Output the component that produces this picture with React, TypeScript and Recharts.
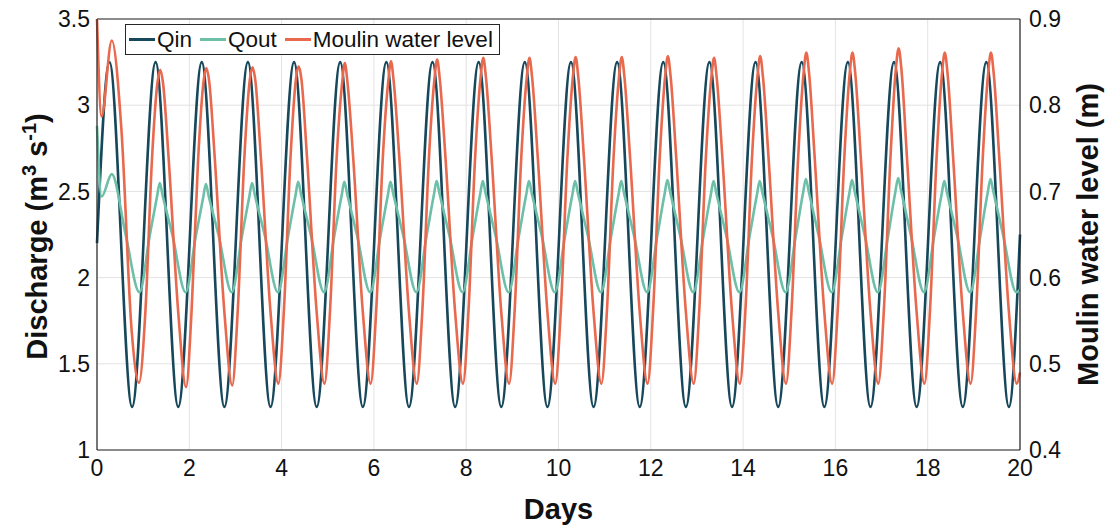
import React from "react";
import { CartesianGrid, Line, LineChart, ReferenceLine, XAxis, YAxis } from "recharts";

type Point = [number, number];

// Meltwater inflow to the moulin (m3/s): daily highs and lows
const qinPoints: Point[] = [
  [0, 2.2],
  [0.27, 3.25], [0.76, 1.25],
  [1.27, 3.25], [1.76, 1.25],
  [2.27, 3.25], [2.76, 1.25],
  [3.27, 3.25], [3.76, 1.25],
  [4.27, 3.25], [4.76, 1.25],
  [5.27, 3.25], [5.76, 1.25],
  [6.27, 3.25], [6.76, 1.25],
  [7.27, 3.25], [7.76, 1.25],
  [8.27, 3.25], [8.76, 1.25],
  [9.27, 3.25], [9.76, 1.25],
  [10.27, 3.25], [10.76, 1.25],
  [11.27, 3.25], [11.76, 1.25],
  [12.27, 3.25], [12.76, 1.25],
  [13.27, 3.25], [13.76, 1.25],
  [14.27, 3.25], [14.76, 1.25],
  [15.27, 3.25], [15.76, 1.25],
  [16.27, 3.25], [16.76, 1.25],
  [17.27, 3.25], [17.76, 1.25],
  [18.27, 3.25], [18.76, 1.25],
  [19.27, 3.25], [19.76, 1.25],
  [20, 2.25],
];

// Outflow through the subglacial channel (m3/s)
const qoutPoints: Point[] = [
  [0, 2.88], [0.1, 2.47], [0.32, 2.6], [0.62, 2.25], [0.92, 1.915],
  [1.14, 2.24], [1.3, 2.469], [1.36, 2.549], [1.42, 2.479], [1.64, 2.24], [1.92, 1.915],
  [2.14, 2.24], [2.3, 2.463], [2.36, 2.543], [2.42, 2.473], [2.64, 2.24], [2.92, 1.915],
  [3.14, 2.24], [3.3, 2.469], [3.36, 2.549], [3.42, 2.479], [3.64, 2.24], [3.92, 1.915],
  [4.14, 2.24], [4.3, 2.475], [4.36, 2.555], [4.42, 2.485], [4.64, 2.24], [4.92, 1.915],
  [5.14, 2.24], [5.3, 2.475], [5.36, 2.555], [5.42, 2.485], [5.64, 2.24], [5.92, 1.915],
  [6.14, 2.24], [6.3, 2.475], [6.36, 2.555], [6.42, 2.485], [6.64, 2.24], [6.92, 1.915],
  [7.14, 2.24], [7.3, 2.48], [7.36, 2.56], [7.42, 2.49], [7.64, 2.24], [7.92, 1.915],
  [8.14, 2.24], [8.3, 2.48], [8.36, 2.56], [8.42, 2.49], [8.64, 2.24], [8.92, 1.915],
  [9.14, 2.24], [9.3, 2.48], [9.36, 2.56], [9.42, 2.49], [9.64, 2.24], [9.92, 1.915],
  [10.14, 2.24], [10.3, 2.48], [10.36, 2.56], [10.42, 2.49], [10.64, 2.24], [10.92, 1.915],
  [11.14, 2.24], [11.3, 2.48], [11.36, 2.56], [11.42, 2.49], [11.64, 2.24], [11.92, 1.915],
  [12.14, 2.24], [12.3, 2.486], [12.36, 2.566], [12.42, 2.496], [12.64, 2.24], [12.92, 1.915],
  [13.14, 2.24], [13.3, 2.48], [13.36, 2.56], [13.42, 2.49], [13.64, 2.24], [13.92, 1.915],
  [14.14, 2.24], [14.3, 2.48], [14.36, 2.56], [14.42, 2.49], [14.64, 2.24], [14.92, 1.915],
  [15.14, 2.24], [15.3, 2.492], [15.36, 2.572], [15.42, 2.502], [15.64, 2.24], [15.92, 1.915],
  [16.14, 2.24], [16.3, 2.486], [16.36, 2.566], [16.42, 2.496], [16.64, 2.24], [16.92, 1.915],
  [17.14, 2.24], [17.3, 2.498], [17.36, 2.578], [17.42, 2.508], [17.64, 2.24], [17.92, 1.915],
  [18.14, 2.24], [18.3, 2.48], [18.36, 2.56], [18.42, 2.49], [18.64, 2.24], [18.92, 1.915],
  [19.14, 2.24], [19.3, 2.492], [19.36, 2.572], [19.42, 2.502], [19.64, 2.24], [19.92, 1.915],
  [20, 1.93],
];

// Water level in the moulin (m), plotted on the right axis
const levelPoints: Point[] = [
  [0, 0.9], [0.1, 0.787], [0.32, 0.875], [0.53, 0.771], [0.75, 0.539], [0.91, 0.478],
  [1.05, 0.562], [1.19, 0.736], [1.31, 0.826], [1.37, 0.841], [1.43, 0.826], [1.55, 0.74], [1.76, 0.56], [1.93, 0.473],
  [2.05, 0.562], [2.19, 0.736], [2.31, 0.828], [2.37, 0.843], [2.43, 0.828], [2.55, 0.74], [2.76, 0.56], [2.93, 0.475],
  [3.05, 0.562], [3.19, 0.736], [3.31, 0.829], [3.37, 0.844], [3.43, 0.829], [3.55, 0.74], [3.76, 0.56], [3.93, 0.477],
  [4.05, 0.562], [4.19, 0.736], [4.31, 0.83], [4.37, 0.845], [4.43, 0.83], [4.55, 0.74], [4.76, 0.56], [4.93, 0.477],
  [5.05, 0.562], [5.19, 0.736], [5.31, 0.825], [5.37, 0.849], [5.43, 0.825], [5.55, 0.74], [5.76, 0.56], [5.93, 0.477],
  [6.05, 0.562], [6.19, 0.736], [6.31, 0.827], [6.37, 0.851], [6.43, 0.827], [6.55, 0.74], [6.76, 0.56], [6.93, 0.477],
  [7.05, 0.562], [7.19, 0.736], [7.31, 0.829], [7.37, 0.853], [7.43, 0.829], [7.55, 0.74], [7.76, 0.56], [7.93, 0.477],
  [8.05, 0.562], [8.19, 0.736], [8.31, 0.831], [8.37, 0.855], [8.43, 0.831], [8.55, 0.74], [8.76, 0.56], [8.93, 0.477],
  [9.05, 0.562], [9.19, 0.736], [9.31, 0.831], [9.37, 0.855], [9.43, 0.831], [9.55, 0.74], [9.76, 0.56], [9.93, 0.477],
  [10.05, 0.562], [10.19, 0.736], [10.31, 0.832], [10.37, 0.856], [10.43, 0.832], [10.55, 0.74], [10.76, 0.56], [10.93, 0.477],
  [11.05, 0.562], [11.19, 0.736], [11.31, 0.832], [11.37, 0.856], [11.43, 0.832], [11.55, 0.74], [11.76, 0.56], [11.93, 0.477],
  [12.05, 0.562], [12.19, 0.736], [12.31, 0.833], [12.37, 0.857], [12.43, 0.833], [12.55, 0.74], [12.76, 0.56], [12.93, 0.477],
  [13.05, 0.562], [13.19, 0.736], [13.31, 0.831], [13.37, 0.855], [13.43, 0.831], [13.55, 0.74], [13.76, 0.56], [13.93, 0.477],
  [14.05, 0.562], [14.19, 0.736], [14.31, 0.833], [14.37, 0.857], [14.43, 0.833], [14.55, 0.74], [14.76, 0.56], [14.93, 0.477],
  [15.05, 0.562], [15.19, 0.736], [15.31, 0.837], [15.37, 0.861], [15.43, 0.837], [15.55, 0.74], [15.76, 0.56], [15.93, 0.477],
  [16.05, 0.562], [16.19, 0.736], [16.31, 0.837], [16.37, 0.861], [16.43, 0.837], [16.55, 0.74], [16.76, 0.56], [16.93, 0.477],
  [17.05, 0.562], [17.19, 0.736], [17.31, 0.842], [17.37, 0.866], [17.43, 0.842], [17.55, 0.74], [17.76, 0.56], [17.93, 0.477],
  [18.05, 0.562], [18.19, 0.736], [18.31, 0.837], [18.37, 0.861], [18.43, 0.837], [18.55, 0.74], [18.76, 0.56], [18.93, 0.477],
  [19.05, 0.562], [19.19, 0.736], [19.31, 0.837], [19.37, 0.861], [19.43, 0.837], [19.55, 0.74], [19.76, 0.56], [19.93, 0.477],
  [20, 0.49],
];

const dayTicks = [0, 2, 4, 6, 8, 10, 12, 14, 16, 18, 20];
const dischargeTicks = [1, 1.5, 2, 2.5, 3, 3.5];
const levelTicks = [0.4, 0.5, 0.6, 0.7, 0.8, 0.9];

const series = [
  { key: "qin", label: "Qin", color: "#16475a" },
  { key: "qout", label: "Qout", color: "#6dbfa8" },
  { key: "level", label: "Moulin water level", color: "#e8694e" },
] as const;

const toRows = (points: Point[]) => points.map(([day, value]) => ({ day, value }));
const qinData = toRows(qinPoints);
const qoutData = toRows(qoutPoints);
const levelData = toRows(levelPoints);

const FONT = '"Liberation Sans", Arial, Helvetica, sans-serif';
const AXIS = "#262626";
const tickStyle = { fontSize: 23, fill: "#111", fontFamily: FONT };

type Box = { x: number; y: number; width: number; height: number };
const fallback: Box = { x: 0, y: 0, width: 0, height: 0 };

function DischargeTitle(props: { viewBox?: Box }) {
  const vb = props.viewBox ?? fallback;
  const bx = vb.x + 47;
  const cy = vb.y + vb.height / 2 + 2;
  return (
    <text
      x={bx}
      y={cy}
      transform={`rotate(-90 ${bx} ${cy})`}
      textAnchor="middle"
      fontFamily={FONT}
      fontWeight="bold"
      fontSize={29}
      fill="#111"
    >
      Discharge (m
      <tspan dy={-11} fontSize={20}>3</tspan>
      <tspan dy={11}> s</tspan>
      <tspan dy={-11} fontSize={20}>-1</tspan>
      <tspan dy={11}>)</tspan>
    </text>
  );
}

function LevelTitle(props: { viewBox?: Box }) {
  const vb = props.viewBox ?? fallback;
  const bx = vb.x + 78;
  const cy = vb.y + vb.height / 2;
  return (
    <text
      x={bx}
      y={cy}
      transform={`rotate(-90 ${bx} ${cy})`}
      textAnchor="middle"
      fontFamily={FONT}
      fontWeight="bold"
      fontSize={29}
      fill="#111"
    >
      Moulin water level (m)
    </text>
  );
}

function DaysTitle(props: { viewBox?: Box }) {
  const vb = props.viewBox ?? fallback;
  return (
    <text
      x={vb.x + vb.width / 2}
      y={vb.y + 69}
      textAnchor="middle"
      fontFamily={FONT}
      fontWeight="bold"
      fontSize={29}
      fill="#111"
    >
      Days
    </text>
  );
}

function LegendBox() {
  return (
    <div
      style={{
        position: "absolute",
        left: 125,
        top: 24,
        height: 29,
        padding: "0 6px 0 3px",
        display: "flex",
        alignItems: "center",
        gap: 8,
        border: `1px solid ${AXIS}`,
        background: "#fff",
        fontFamily: FONT,
        fontSize: 22.5,
        color: "#111",
        whiteSpace: "nowrap",
      }}
    >
      {series.map((s) => (
        <div key={s.key} style={{ display: "flex", alignItems: "center", gap: 2 }}>
          <span style={{ display: "inline-block", width: 26, height: 3, background: s.color }} />
          <span>{s.label}</span>
        </div>
      ))}
    </div>
  );
}

export default function App() {
  return (
    <div style={{ position: "absolute", left: 0, top: 0, width: 1105, height: 525, background: "#fff" }}>
      <LineChart width={1105} height={525} margin={{ top: 19, right: 0, bottom: 0, left: 0 }}>
        <CartesianGrid yAxisId="left" stroke="#e3e3e3" strokeWidth={1} />
        <XAxis
          dataKey="day"
          type="number"
          domain={[0, 20]}
          ticks={dayTicks}
          interval={0}
          height={75}
          tickLine={false}
          tickSize={0}
          tickMargin={10}
          axisLine={{ stroke: AXIS, strokeWidth: 1.2 }}
          tick={tickStyle}
          label={(p: { viewBox?: Box }) => <DaysTitle viewBox={p.viewBox} />}
        />
        <YAxis
          yAxisId="left"
          domain={[1, 3.5]}
          ticks={dischargeTicks}
          interval={0}
          width={97}
          tickLine={false}
          tickSize={0}
          tickMargin={7}
          axisLine={{ stroke: AXIS, strokeWidth: 1.2 }}
          tick={tickStyle}
          label={(p: { viewBox?: Box }) => <DischargeTitle viewBox={p.viewBox} />}
        />
        <YAxis
          yAxisId="right"
          orientation="right"
          domain={[0.4, 0.9]}
          ticks={levelTicks}
          interval={0}
          width={85}
          tickLine={false}
          tickSize={0}
          tickMargin={9}
          axisLine={{ stroke: AXIS, strokeWidth: 1.2 }}
          tick={tickStyle}
          label={(p: { viewBox?: Box }) => <LevelTitle viewBox={p.viewBox} />}
        />
        <ReferenceLine yAxisId="left" y={3.5} stroke={AXIS} strokeWidth={1.2} />

        <Line
          yAxisId="left"
          data={qinData}
          dataKey="value"
          name="Qin"
          type="monotone"
          stroke={series[0].color}
          strokeWidth={2.6}
          dot={false}
          isAnimationActive={false}
        />
        <Line
          yAxisId="left"
          data={qoutData}
          dataKey="value"
          name="Qout"
          type="monotone"
          stroke={series[1].color}
          strokeWidth={2.6}
          dot={false}
          isAnimationActive={false}
        />
        <Line
          yAxisId="right"
          data={levelData}
          dataKey="value"
          name="Moulin water level"
          type="monotone"
          stroke={series[2].color}
          strokeWidth={2.6}
          dot={false}
          isAnimationActive={false}
        />
      </LineChart>
      <LegendBox />
    </div>
  );
}
